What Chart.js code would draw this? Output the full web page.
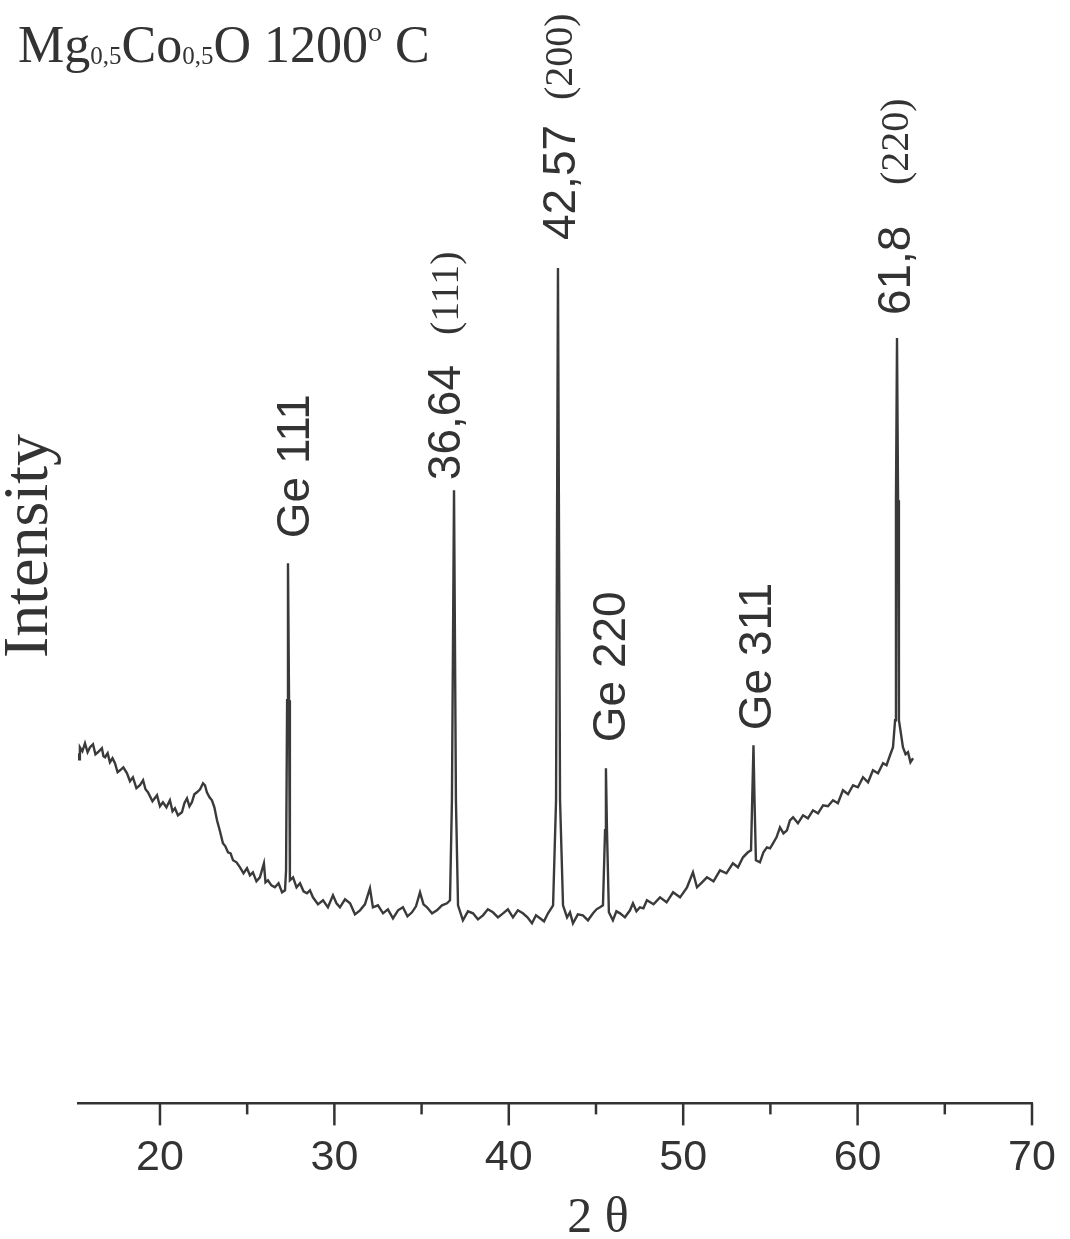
<!DOCTYPE html>
<html>
<head>
<meta charset="utf-8">
<script src="https://cdn.jsdelivr.net/npm/chart.js@4.4.0/dist/chart.umd.min.js"></script>
<style>
  body { margin: 0; background: #fff; }
  #wrap { width: 1070px; height: 1239px; position: relative; }
</style>
</head>
<body>
<div id="wrap"><canvas id="xrd"></canvas></div>
<script>
// XRD pattern (2 theta in degrees, intensity in arbitrary units)
const twoTheta = [
  15.30, 15.36, 15.41, 15.55, 15.70, 15.85, 15.99, 16.16, 16.30, 16.44,
  16.67, 16.76, 16.85, 17.00, 17.13, 17.28, 17.42, 17.57, 17.71, 17.90,
  18.11, 18.28, 18.45, 18.65, 18.85, 19.03, 19.17, 19.31, 19.57, 19.83,
  20.00, 20.17, 20.37, 20.57, 20.72, 20.86, 21.03, 21.26, 21.40, 21.55,
  21.69, 21.83, 21.97, 22.12, 22.30, 22.47, 22.58, 22.69, 22.84, 22.98,
  23.12, 23.27, 23.44, 23.61, 23.75, 23.90, 24.05, 24.19, 24.39, 24.59,
  24.79, 24.99, 25.16, 25.33, 25.53, 25.73, 25.96, 26.05, 26.19, 26.39,
  26.59, 26.80, 27.00, 27.17, 27.23, 27.29, 27.34, 27.40, 27.45, 27.63,
  27.83, 28.03, 28.23, 28.43, 28.60, 28.77, 29.06, 29.35, 29.63, 29.92,
  30.12, 30.32, 30.61, 30.90, 31.18, 31.47, 31.75, 32.04, 32.21, 32.50,
  32.79, 33.07, 33.36, 33.65, 33.93, 34.19, 34.45, 34.68, 34.91, 35.11,
  35.31, 35.60, 35.88, 36.17, 36.46, 36.63, 36.74, 36.86, 36.97, 37.09,
  37.37, 37.66, 37.95, 38.23, 38.52, 38.80, 39.09, 39.38, 39.67, 39.95,
  40.24, 40.52, 40.81, 41.07, 41.33, 41.56, 41.79, 42.02, 42.25, 42.54,
  42.71, 42.82, 42.94, 43.11, 43.34, 43.51, 43.68, 43.96, 44.25, 44.54,
  44.83, 45.03, 45.23, 45.40, 45.52, 45.57, 45.63, 45.74, 45.97, 46.17,
  46.38, 46.66, 46.95, 47.12, 47.32, 47.52, 47.72, 47.92, 48.30, 48.67,
  49.05, 49.42, 49.82, 50.22, 50.56, 50.79, 51.08, 51.36, 51.74, 52.11,
  52.48, 52.85, 53.14, 53.43, 53.71, 53.89, 53.97, 54.03, 54.09, 54.17,
  54.40, 54.60, 54.80, 54.98, 55.15, 55.35, 55.55, 55.75, 55.95, 56.12,
  56.30, 56.58, 56.87, 57.15, 57.44, 57.73, 58.02, 58.30, 58.59, 58.87,
  59.16, 59.45, 59.74, 60.02, 60.31, 60.60, 60.88, 61.17, 61.46, 61.66,
  61.86, 62.03, 62.15, 62.20, 62.26, 62.32, 62.37, 62.60, 62.75, 62.89,
  63.03, 63.18
];
const intensity = [
  350, 344, 356, 352, 360, 351, 356, 359, 349, 351,
  355, 347, 346, 350, 341, 345, 340, 331, 333, 336,
  330, 322, 326, 315, 318, 323, 314, 311, 302, 308,
  297, 301, 296, 303, 292, 295, 288, 291, 300, 305,
  297, 301, 309, 311, 314, 320, 318, 311, 306, 303,
  296, 283, 272, 260, 257, 251, 250, 243, 241, 236,
  230, 235, 228, 231, 222, 226, 240, 221, 223, 218,
  216, 220, 211, 213, 233, 403, 540, 403, 223, 226,
  216, 220, 212, 210, 213, 206, 199, 203, 196, 208,
  200, 196, 204, 200, 189, 193, 199, 215, 196, 198,
  190, 194, 185, 193, 196, 187, 191, 197, 211, 199,
  196, 190, 193, 198, 200, 203, 303, 613, 303, 198,
  183, 192, 190, 184, 188, 194, 191, 186, 190, 194,
  186, 193, 190, 186, 180, 188, 185, 182, 190, 198,
  303, 835, 303, 198, 186, 191, 180, 189, 188, 183,
  190, 194, 196, 198, 273, 335, 273, 191, 183, 192,
  190, 186, 193, 200, 192, 196, 195, 203, 199, 206,
  201, 211, 206, 216, 231, 216, 221, 226, 222, 233,
  230, 240, 236, 246, 251, 253, 313, 358, 303, 243,
  241, 251, 256, 255, 260, 266, 276, 270, 273, 283,
  286, 280, 288, 285, 293, 290, 298, 297, 303, 300,
  313, 309, 318, 316, 326, 321, 333, 330, 340, 338,
  348, 356, 383, 603, 765, 603, 383, 356, 349, 351,
  341, 345
];

const tickValues = [20, 25, 30, 35, 40, 45, 50, 55, 60, 65, 70];

// peak annotations
const peakLabels = ['Ge 111', '36,64', '42,57', 'Ge 220', 'Ge 311', '61,8'];
const peakLabelTheta = [27.8, 36.5, 43.05, 45.93, 54.3, 62.26];
const peakLabelIntensity = [565, 623, 863, 361, 373, 788];
const hklLabels = ['(111)', '(200)', '(220)'];
const hklTheta = [36.5, 43.05, 62.26];
const hklIntensity = [768, 1003, 918];

const INK = '#333333';
const SANS = '"Liberation Sans", Arial, sans-serif';
const SERIF = '"Liberation Serif", "Times New Roman", serif';

function vertText(ctx, txt, x, y, font) {
  ctx.save();
  ctx.translate(x, y);
  ctx.rotate(-Math.PI / 2);
  ctx.font = font;
  ctx.textAlign = 'left';
  ctx.textBaseline = 'middle';
  ctx.fillText(txt, 0, 0);
  ctx.restore();
}

const decorPlugin = {
  id: 'decor',
  afterDraw(chart) {
    const ctx = chart.ctx;
    const xs = chart.scales.x;
    const ys = chart.scales.y;
    const area = chart.chartArea;
    ctx.save();
    ctx.fillStyle = INK;
    ctx.strokeStyle = INK;

    // tick marks, long on the tens
    ctx.lineWidth = 2.5;
    tickValues.forEach(v => {
      const px = xs.getPixelForValue(v);
      const len = v % 10 === 0 ? 22 : 11;
      ctx.beginPath();
      ctx.moveTo(px, area.bottom);
      ctx.lineTo(px, area.bottom + len);
      ctx.stroke();
    });

    // peak labels
    peakLabels.forEach((t, i) => {
      vertText(ctx, t, xs.getPixelForValue(peakLabelTheta[i]), ys.getPixelForValue(peakLabelIntensity[i]), '46px ' + SANS);
    });
    hklLabels.forEach((t, i) => {
      vertText(ctx, t, xs.getPixelForValue(hklTheta[i]), ys.getPixelForValue(hklIntensity[i]), '40px ' + SERIF);
    });

    // sample title, with subscripts
    const big = '52px ' + SERIF, small = '25px ' + SERIF;
    const parts = [
      ['Mg', big, 0], ['0,5', small, 2], ['Co', big, 0], ['0,5', small, 2],
      ['O 1200', big, 0], ['o', '28px ' + SERIF, -21], [' C', big, 0]
    ];
    let x = 18;
    ctx.textAlign = 'left';
    ctx.textBaseline = 'alphabetic';
    parts.forEach(p => {
      ctx.font = p[1];
      ctx.fillText(p[0], x, 62 + p[2]);
      x += ctx.measureText(p[0]).width;
    });

    // axis titles
    ctx.save();
    ctx.translate(47, 546);
    ctx.rotate(-Math.PI / 2);
    ctx.font = '64px ' + SERIF;
    ctx.textAlign = 'center';
    ctx.textBaseline = 'alphabetic';
    ctx.fillText('Intensity', 0, 0);
    ctx.restore();

    ctx.font = '50px ' + SERIF;
    ctx.textAlign = 'center';
    ctx.textBaseline = 'alphabetic';
    ctx.fillText('2 θ', 598, 1232);
    ctx.restore();
  }
};

new Chart(document.getElementById('xrd'), {
  type: 'line',
  data: {
    datasets: [{
      data: twoTheta.map((t, i) => ({ x: t, y: intensity[i] })),
      borderColor: '#3a3a3a',
      borderWidth: 2.4,
      pointRadius: 0,
      tension: 0,
      fill: false
    }]
  },
  options: {
    responsive: true,
    maintainAspectRatio: false,
    animation: false,
    layout: { padding: { top: 103, left: 78, right: 38, bottom: 26 } },
    plugins: { legend: { display: false }, tooltip: { enabled: false } },
    scales: {
      x: {
        type: 'linear',
        min: 15.3,
        max: 70,
        afterBuildTicks: scale => { scale.ticks = tickValues.map(v => ({ value: v })); },
        afterFit: scale => { scale.paddingLeft = 0; scale.paddingRight = 0; },
        grid: { display: false, drawTicks: false },
        border: { display: true, color: INK, width: 2.5 },
        ticks: {
          padding: 29,
          maxRotation: 0,
          autoSkip: false,
          color: INK,
          font: { family: SANS, size: 43 },
          callback: v => (v % 10 === 0 ? String(v) : '')
        }
      },
      y: { display: false, min: 0, max: 1000 }
    }
  },
  plugins: [decorPlugin]
});
</script>
</body>
</html>
